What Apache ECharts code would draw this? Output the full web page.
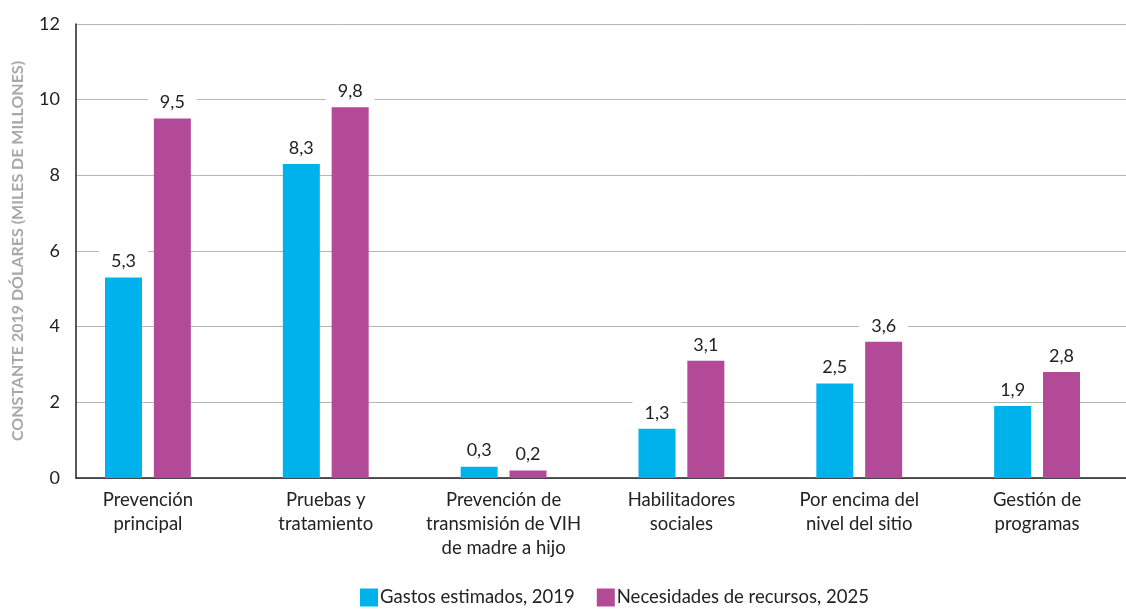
<!DOCTYPE html>
<html>
<head>
<meta charset="utf-8">
<script src="https://cdn.jsdelivr.net/npm/echarts@6/dist/echarts.min.js"></script>
<style>
  html, body { margin: 0; padding: 0; background: #fff; }
  #chart { width: 1126px; height: 614px; }
</style>
</head>
<body>
<div id="chart"></div>
<script>
// categorías y valores
const categories = [
  'Prevención\nprincipal',
  'Pruebas y\ntratamiento',
  'Prevención de\ntransmisión de VIH\nde madre a hijo',
  'Habilitadores\nsociales',
  'Por encima del\nnivel del sitio',
  'Gestión de\nprogramas'
]
const gastos2019 = [5.3, 8.3, 0.3, 1.3, 2.5, 1.9]
const necesidades2025 = [9.5, 9.8, 0.2, 3.1, 3.6, 2.8]
const seriesNames = ['Gastos estimados, 2019', 'Necesidades de recursos, 2025']
const yTicks = { min: 0, max: 12, interval: 2 }

const FONT = 'Lato, "Noto Sans", sans-serif'
const fmt = p => String(p.value).replace('.', ',')

const barLabel = {
  show: true,
  position: 'top',
  distance: 4,
  formatter: fmt,
  color: '#222',
  fontSize: 18,
  fontFamily: FONT,
  backgroundColor: '#fff',
  padding: [5, 12, 3, 12]
}

const chart = echarts.init(document.getElementById('chart'))
chart.setOption({
  backgroundColor: '#fff',
  textStyle: { fontFamily: FONT },
  animation: false,
  // grid 0: ejes y líneas de cuadrícula; grid 1: barras (algo desplazadas a la izquierda)
  grid: [
    { left: 76, right: 0, top: 24, bottom: 136 },
    { left: 59, width: 1072, top: 24, bottom: 136 }
  ],
  legend: {
    left: 355,
    bottom: 2,
    itemWidth: 18,
    itemHeight: 18,
    itemGap: 22,
    icon: 'rect',
    textStyle: { fontSize: 18.5, color: '#222', fontFamily: FONT, padding: [0, 0, 0, -3] },
    data: seriesNames
  },
  xAxis: [
    {
      gridIndex: 0,
      type: 'category',
      data: [''],
      axisLine: { show: true, lineStyle: { color: '#222', width: 1.5 } },
      axisTick: { show: false },
      axisLabel: { show: false }
    },
    {
      gridIndex: 1,
      type: 'category',
      data: categories,
      axisLine: { show: false },
      axisTick: { show: false },
      axisLabel: { color: '#222', fontSize: 18.5, lineHeight: 24, margin: 10, fontFamily: FONT, interval: 0 }
    }
  ],
  yAxis: [
    {
      gridIndex: 0,
      type: 'value',
      min: yTicks.min,
      max: yTicks.max,
      interval: yTicks.interval,
      name: 'CONSTANTE 2019 DÓLARES (MILES DE MILLONES)',
      nameLocation: 'middle',
      nameGap: 50,
      nameTextStyle: { color: '#a8a8a8', fontSize: 16, fontWeight: 'bold', fontFamily: FONT },
      axisLine: { show: true, lineStyle: { color: '#222', width: 1.5 } },
      axisTick: { show: false },
      axisLabel: { color: '#222', fontSize: 18, margin: 16, fontFamily: FONT },
      splitLine: { show: true, lineStyle: { color: '#b5b5b5', width: 1 } }
    },
    {
      gridIndex: 1,
      type: 'value',
      min: yTicks.min,
      max: yTicks.max,
      show: false,
      splitLine: { show: false }
    }
  ],
  series: [
    {
      name: seriesNames[0],
      type: 'bar',
      xAxisIndex: 1,
      yAxisIndex: 1,
      data: gastos2019,
      barWidth: 37,
      barGap: '32%',
      itemStyle: { color: '#00b2ec' },
      label: barLabel
    },
    {
      name: seriesNames[1],
      type: 'bar',
      xAxisIndex: 1,
      yAxisIndex: 1,
      data: necesidades2025,
      barWidth: 37,
      barGap: '32%',
      itemStyle: { color: '#b24a97' },
      label: barLabel
    }
  ]
})
</script>
</body>
</html>
